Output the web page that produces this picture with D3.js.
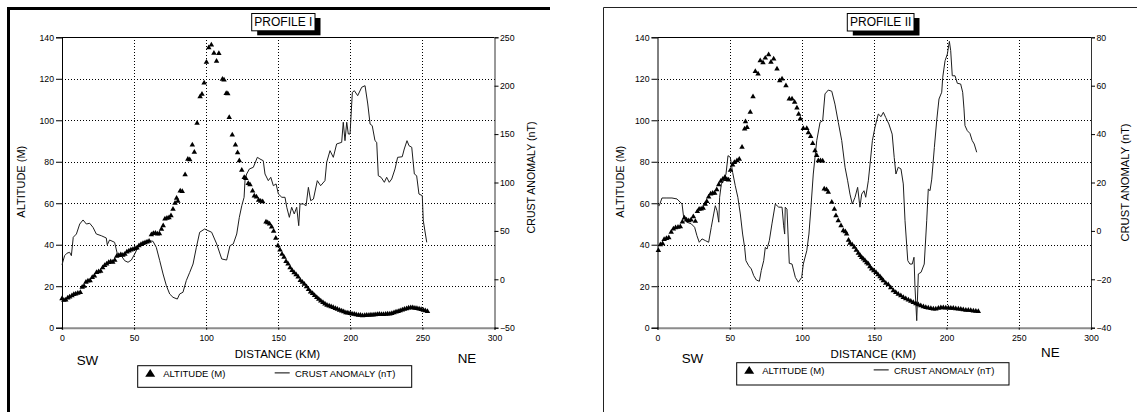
<!DOCTYPE html>
<html>
<head>
<meta charset="utf-8">
<script src="https://cdn.jsdelivr.net/npm/d3@7"></script>
<style>
body{margin:0;background:#fff}
text{font-family:"Liberation Sans",Arial,Helvetica,sans-serif;fill:#000}
</style>
</head>
<body>
<script>
// ---- data ----
var distTicks = [0, 50, 100, 150, 200, 250, 300];
var altTicks = [0, 20, 40, 60, 80, 100, 120, 140];
var crustTicksI = [-50, 0, 50, 100, 150, 200, 250];
var crustTicksII = [-40, -20, 0, 20, 40, 60, 80];

// profile I - altitude (triangles)
var altDistI = [0,1.3,2.6,4,5.3,6.9,8.2,9.5,11,12.7,14,15.3,16.6,18,19.5,21,22.5,24,25.4,26.8,28.2,29.6,31,32.4,33.8,35.2,36.6,38,39.4,40.8,42.2,43.6,45,46.4,47.8,49.2,50.6,52,53.4,54.8,56.2,57.6,59,60.4,62,63.4,64.8,66.2,67.6,69,70.2,71.4,72.8,74.2,75.6,77,78.4,79.5,80.4,82,83.4,85.4,87.3,88.6,90.4,91.8,93.7,95.8,97.1,98.6,100.2,101.8,103.6,105.4,107.2,108.8,111.3,112.4,113.9,115,116,118.1,120.3,121.8,123,124.7,126.4,127.5,129.2,130.4,132.2,133.4,134.9,136.4,137.8,139.2,141.5,142.7,144,145.4,146.8,148.3,149.8,151.2,152.6,154,155.4,156.8,158.2,159.6,161,162.4,163.8,165.3,166.7,168.1,169.6,171,172.4,173.8,175.2,176.7,178.1,179.5,181,182.4,183.8,185.3,186.7,188.1,189.6,191,192.5,194,195.4,196.9,198.3,199.8,201.2,202.7,204.1,205.6,207,208.5,210,211.4,212.9,214.3,215.8,217.2,218.7,220.1,221.6,223,224.5,225.9,227.4,228.8,230.3,231.7,233.2,234.6,236.1,237.5,239,240.4,241.9,243.3,244.8,246.2,247.7,249.1,250.6,252,253.5];
var altValI = [14,13.3,13.4,14.4,14.8,15.4,16,16.3,16.6,17,19.5,20,22,22.5,22.7,24.3,25,26.6,27,27.2,29,30,30.8,31.5,31.8,31.6,32.5,34.5,34.8,35.2,35,35.5,36.5,37,37.5,37.8,38.2,38.5,39.6,40.2,40.6,41,41.3,41.7,44.8,45.4,45.6,45.2,45.3,47.5,49.2,52.4,52.8,53,54,57.2,60,62.5,61,66,65.7,73.8,81.3,81,88.1,84.6,98.6,111.4,112.6,118,128,135,136.3,132.3,128.5,132.2,119.8,119.5,113,112.8,101.4,92.9,88.1,84.4,80.5,76,72.5,72,69.6,69,66,63.5,63,61.5,61,60.8,51,50.6,50,48.6,46.5,43.2,39.5,37.5,35.5,34,32,30.8,29,27.6,26.5,25.6,24.5,22.8,22,21,19.8,18.5,17.2,16.5,15.6,14.6,13.8,12.9,12.2,11.5,10.9,10.5,10.1,9.8,9.3,8.9,8.5,8.1,7.7,7.3,7.1,6.9,6.7,6.5,6.3,6.1,6,5.8,5.9,6,6.1,6.2,6.2,6.3,6.4,6.5,6.4,6.4,6.5,6.6,6.7,6.9,7.2,7.6,7.9,8.2,8.6,8.9,9.2,9.5,9.7,9.6,9.4,9.3,9.1,8.8,8.5,8.2,7.9];

// profile I - crust anomaly (line)
var crustDistI = [0,1.8,3.5,5.3,6.5,7.8,10,12.3,14.6,16.9,19.2,21.5,23.8,27.3,30.7,31.4,33,36.5,38.4,41.1,43.5,45.8,48.1,50.4,52.7,56.2,59.7,63.1,65.4,67.8,70.1,72.4,74.7,77,80,81.6,83.9,86.2,88.6,90.9,93.2,95.5,99,100.4,103.8,107.3,110.8,114.2,116.5,118.8,121.2,123,124.7,126.3,127,128.1,130,132.7,135.5,137.3,139.6,140.8,143.1,144.8,146.6,148.5,150.1,152.5,154.7,155.9,157.7,159.3,161.1,162.8,164.2,165.1,167.4,169.3,170.9,172.5,174.4,177.1,179.4,182.4,183.6,185.9,188.2,190.5,194,195.1,196.3,197.5,198.6,199.8,201.4,202.8,205.1,207.9,210.2,212.1,213.7,215.2,217.1,218.3,219.4,221.3,223.6,225.2,227,228.7,231,232.8,236,237.4,239.3,240.7,242.6,244.4,246,247.6,249.9,250.6,253];
var crustValI = [15,24.4,27,27.9,24.4,43.4,46.8,57.1,61.3,57.1,57.9,53.7,46.8,45,42.7,35.7,40.6,38.2,26.1,24.4,19.2,17.6,19.9,26.1,33,38.2,39.9,39.3,33,19.2,5.5,-6.6,-15.2,-18.6,-20.4,-15.2,-13.4,-1.4,7.2,15.8,33,48.6,52,50.9,48.6,36.5,21,19.9,34.7,36.5,46.8,64,76,84.7,103.6,108.8,114,115.7,126,124.3,122.5,108.8,101.9,105.4,96.7,98.5,88.1,84.7,84.7,74.4,64,74.4,67.5,74.4,55.4,77.8,77.8,76,95,81.2,82.9,101.9,96.7,101.9,120.9,132.9,126,139.8,141.5,162.2,143.2,162.2,150.1,150.1,193.2,194.8,189.7,198.4,200,181.1,160.4,158.7,143.2,141.5,107,105.4,100.2,105.4,100.2,103.6,114,126,126.6,134.6,143.2,138,136.4,108.8,107,88.1,86.4,60.5,38.2];

// profile II - altitude (triangles)
var altDistII = [0.6,2,3.5,4.6,6.2,7.8,9.5,11,12.5,14.2,15.8,17.2,18.6,20.1,21.6,23.2,24.8,26.2,27.6,28.8,30.2,31.6,33,34.1,35.4,36.8,38.2,39.6,41,42.4,43.8,45.2,46.6,48,49.2,50.5,52,53.2,55,56.6,58.5,60.3,60.9,62,64.2,66.1,67.7,69.6,71.1,73,74.6,76.9,78.5,80.4,82.7,84.6,86.2,88.9,91.2,93.1,94.9,96.5,97.7,98.8,100.9,103.3,104.4,106,107.4,109,110.2,111.3,112.8,114.3,115.4,117,118.2,120.6,122.4,123.5,125.1,127,128.6,130,130.9,132.2,133.2,134.7,136.2,137.6,139,140.2,141.3,142.5,143.6,144.8,145.9,147,148.2,149.7,151.2,152.6,154,155.1,156.3,158,159.7,161.4,163.2,164.9,166.6,168.4,170.1,171.8,173.6,175.3,177,178.8,180.5,182.2,184,185.7,187.4,189.2,190.9,192.6,194.4,196.1,197.8,199.5,201.3,203,204.7,206.4,208.2,209.9,211.6,213.4,215.1,216.8,218.6,220.3,222];
var altValII = [37.3,40,40.5,42.6,43,43.4,46,47.6,48.2,48.5,48.7,51,52.9,52,51.6,52,53.5,51.3,56,57.2,57.3,57.6,59.5,60.9,63,64.5,64.8,64.8,66.5,69,70.6,71.6,72.5,71.5,71.2,76,78.5,79.7,80.5,81.3,87,95.8,99.3,96.6,103.9,111.4,123.6,122.3,128.7,127.8,130,131.6,128,129.6,124.7,119.1,119.9,116.7,110.3,110.3,108.7,105.9,103,100.6,96.1,96.1,94,92.2,88.9,85.3,83,80.5,80.5,80.4,66.9,66.5,65.3,60.5,57.2,54,51.6,49.2,46.8,46.3,45.2,42.2,40.7,40,38.8,37.4,35.9,34.8,33.9,33.1,32.3,31.4,30.7,29.4,28.3,27.5,26.7,25.6,24.6,23.6,22.7,21.5,20.7,19.3,17.8,17,16.2,15.4,14.6,14,13.4,12.8,12.2,11.6,11.1,10.6,10.1,9.8,9.5,9.3,9.1,9,9.4,9.6,9.6,9.5,9.5,9.4,9.4,9.2,9,8.9,8.7,8.5,8.4,8.3,8.1,8,7.9];

// profile II - crust anomaly (line)
var crustDistII = [0,1.2,3.1,6.5,10,13.5,17,18.1,20.4,23.4,25.7,27.3,28.9,30.8,33.1,35.4,37.2,38.9,40,41.2,42.4,43,44.2,45.8,47.4,48.8,50.4,52,53.8,55.6,57.3,58.9,60.3,61.2,63.1,64.9,66.6,68.4,70.5,71.8,73.5,74.6,75.8,77.4,79.2,81.5,83.9,86.2,87.3,88,88.4,89.6,91.2,93.1,95.4,97.5,99.8,100.9,103.3,104.8,106.2,107.8,110.2,112.5,114.3,115.9,118.2,120.6,122.8,125.1,127.5,129.8,131.6,133.2,134.8,136.7,138.5,140.1,141.3,142.9,144.1,145.9,147.1,148.7,150.5,152.8,154.7,156.3,157.9,160.1,162.4,163.8,165,166.6,168.5,170.1,171.3,173.2,174.7,176.3,177.5,178.2,179.4,180.5,182.4,184.6,186.3,187.4,188.6,189.8,191.6,193.2,194.8,196.7,197.4,199,200.6,202,202.9,204,205.9,207.5,209.8,211.2,212.1,212.8,214.4,216.2,217.8,219.2,220.9];
var crustValII = [11.1,10.4,13.6,13.6,13.6,13.2,11.1,5.6,3.6,2.9,1.5,-2,-4.7,-3.3,-4,-4.7,1.5,7,10.4,8.3,3.6,13.9,19.4,20.7,23.5,31.1,30.4,24.2,18.7,13.9,7,-1.3,-6.8,-12.3,-14.4,-15.7,-18.5,-20.3,-20.8,-16.4,-12.3,-6.8,-7.5,-4,2.9,11.1,9.8,9.8,2.1,-1.3,9.8,9,-13.4,-13.7,-19.2,-21.2,-19.2,-13.7,-8.2,-1.3,9.8,23.5,37.3,44.9,45.5,56.6,58.2,57.7,52.4,44.9,37.3,26.3,20.7,15.2,11.1,13.9,18,9.8,15.2,16.6,13.9,20.7,27.6,37.3,42.8,48.3,47.2,49,46.9,44.2,40,30.4,23.5,26.3,25.6,19.4,4.2,-12.3,-13.7,-13.7,-10.9,-23.3,-37.1,-17.8,-17.1,-13.7,4.2,17.3,16.6,21.4,34.5,45.5,54.5,57.3,63.5,70.3,73.1,78.3,74.5,64.1,64.1,61,60.7,57.3,50.4,43.5,41.4,40.3,37.3,35.9,32.5];

var W = 1137, H = 412;
var svg = d3.select("body").append("svg")
	.attr("width", W)
	.attr("height", H);

// outer frames
svg.append("path")
	.attr("d", "M8.5,412V8.5H550")
	.attr("fill", "none").attr("stroke", "#000").attr("stroke-width", 3);
svg.append("path")
	.attr("d", "M603.5,412V7.5H1137")
	.attr("fill", "none").attr("stroke", "#222").attr("stroke-width", 1);

var top0 = 37.3, bot0 = 327.7;

function drawPanel(p) {
	var x = d3.scaleLinear().domain([0, 300]).range([p.left, p.right]);
	var yA = d3.scaleLinear().domain([0, 140]).range([bot0, top0]);
	var yC = d3.scaleLinear().domain([p.crustTicks[0], p.crustTicks[p.crustTicks.length - 1]]).range([bot0, top0]);
	var g = svg.append("g");

	// dotted grid
	g.selectAll(".hg").data(altTicks.slice(1, -1)).enter().append("line")
		.attr("x1", p.left).attr("x2", p.right)
		.attr("y1", function(d){ return Math.round(yA(d)) + 0.5; })
		.attr("y2", function(d){ return Math.round(yA(d)) + 0.5; })
		.attr("stroke", "#000").attr("stroke-dasharray", "1,2")
		.attr("shape-rendering", "crispEdges");
	g.selectAll(".vg").data(distTicks.slice(1, -1)).enter().append("line")
		.attr("y1", top0).attr("y2", bot0)
		.attr("x1", function(d){ return Math.round(x(d)) + 0.5; })
		.attr("x2", function(d){ return Math.round(x(d)) + 0.5; })
		.attr("stroke", "#000").attr("stroke-dasharray", "1,2")
		.attr("shape-rendering", "crispEdges");

	// top border
	g.append("line").attr("x1", p.left).attr("x2", p.right)
		.attr("y1", 37.5).attr("y2", 37.5).attr("stroke", "#000");

	// axes
	var ax = g.append("g").attr("transform", "translate(0," + bot0 + ")")
		.call(d3.axisBottom(x).tickValues(distTicks).tickSize(2).tickPadding(5));
	ax.select(".domain").attr("stroke", "#8c8c8c").attr("stroke-width", 2);

	var al = g.append("g").attr("transform", "translate(" + p.left + ",0)")
		.call(d3.axisLeft(yA).tickValues(altTicks).tickSize(6).tickPadding(2));
	var ar = g.append("g").attr("transform", "translate(" + p.right + ",0)")
		.call(d3.axisRight(yC).tickValues(p.crustTicks).tickSize(4).tickPadding(1.5));
	ar.select(".domain").attr("stroke", "#333");
	g.selectAll(".tick text").attr("font-size", "8.7px").attr("fill", "#000")
		.style("font-family", "'Liberation Sans',Arial,sans-serif");
	g.selectAll(".tick line").attr("stroke", "#000");

	// crust anomaly line
	var line = d3.line()
		.x(function(d){ return x(d[0]); })
		.y(function(d){ return yC(d[1]); });
	g.append("path")
		.datum(d3.zip(p.crustDist, p.crustVal))
		.attr("d", line)
		.attr("fill", "none").attr("stroke", "#1e1e1e").attr("stroke-width", 1);

	// altitude triangles
	var tri = d3.symbol(d3.symbolTriangle).size(13);
	g.selectAll(".alt").data(d3.zip(p.altDist, p.altVal)).enter().append("path")
		.attr("d", tri)
		.attr("transform", function(d){ return "translate(" + x(d[0]) + "," + yA(d[1]) + ")"; })
		.attr("fill", "#000");

	// axis titles
	g.append("text").attr("x", p.xTitle).attr("y", 358).attr("text-anchor", "middle")
		.attr("font-size", "11.5px").text("DISTANCE (KM)");
	g.append("text").attr("x", p.sw[0]).attr("y", p.sw[1])
		.attr("font-size", "13.4px").text("SW");
	g.append("text").attr("x", p.ne[0]).attr("y", p.ne[1])
		.attr("font-size", "13.4px").text("NE");
	g.append("text").attr("transform", "translate(" + p.altLab + ",181.7) rotate(-90)")
		.attr("text-anchor", "middle").attr("dy", "0.35em")
		.attr("font-size", "11px").text("ALTITUDE (M)");
	g.append("text").attr("transform", "translate(" + p.crustLab[0] + "," + p.crustLab[1] + ") rotate(-90)")
		.attr("text-anchor", "middle").attr("dy", "0.35em")
		.attr("font-size", p.crustLab[2] + "px").text("CRUST ANOMALY (nT)");

	// title box with shadow
	var tb = p.titleBox;
	g.append("rect").attr("x", tb[0] + 5.5).attr("y", tb[1] + 4.5)
		.attr("width", tb[2]).attr("height", tb[3]).attr("fill", "#000");
	g.append("rect").attr("x", tb[0]).attr("y", tb[1])
		.attr("width", tb[2]).attr("height", tb[3])
		.attr("fill", "#fff").attr("stroke", "#000").attr("stroke-width", 1);
	g.append("text").attr("x", tb[0] + tb[2] / 2).attr("y", tb[1] + 12)
		.attr("text-anchor", "middle").attr("font-size", "12px").text(p.title);

	// legend
	var lb = p.legendBox;
	var lg = g.append("g").attr("transform", "translate(" + lb[0] + "," + lb[1] + ")");
	lg.append("rect").attr("width", lb[2]).attr("height", lb[3])
		.attr("fill", "#fff").attr("stroke", "#000").attr("stroke-width", 1);
	var ly = 7.2;
	lg.append("path").attr("d", "M7.5,11L12.5,3.3L17.5,11Z").attr("fill", "#000");
	lg.append("text").attr("x", 25.5).attr("y", 11.3).attr("font-size", "9.5px").text("ALTITUDE (M)");
	lg.append("line").attr("x1", 137).attr("x2", 152).attr("y1", ly).attr("y2", ly)
		.attr("stroke", "#000");
	lg.append("text").attr("x", 157.3).attr("y", 11.3).attr("font-size", "9.5px").text("CRUST ANOMALY (nT)");
}

drawPanel({
	title: "PROFILE I", left: 62, right: 494.5,
	crustTicks: crustTicksI,
	altDist: altDistI, altVal: altValI, crustDist: crustDistI, crustVal: crustValI,
	xTitle: 277.5, sw: [76.7, 365], ne: [457.7, 363.3],
	altLab: 21.5, crustLab: [531.7, 177.5, 10.6],
	titleBox: [251.7, 13.5, 63.3, 17.3],
	legendBox: [137.7, 365.7, 274, 21.6]
});
drawPanel({
	title: "PROFILE II", left: 657.5, right: 1091,
	crustTicks: crustTicksII,
	altDist: altDistII, altVal: altValII, crustDist: crustDistII, crustVal: crustValII,
	xTitle: 873.3, sw: [681.7, 363.3], ne: [1041, 356.7],
	altLab: 620, crustLab: [1125, 182.5, 11.2],
	titleBox: [847.3, 13.5, 66.7, 17.5],
	legendBox: [736.7, 362.7, 272.3, 22.3]
});
</script>
</body>
</html>
